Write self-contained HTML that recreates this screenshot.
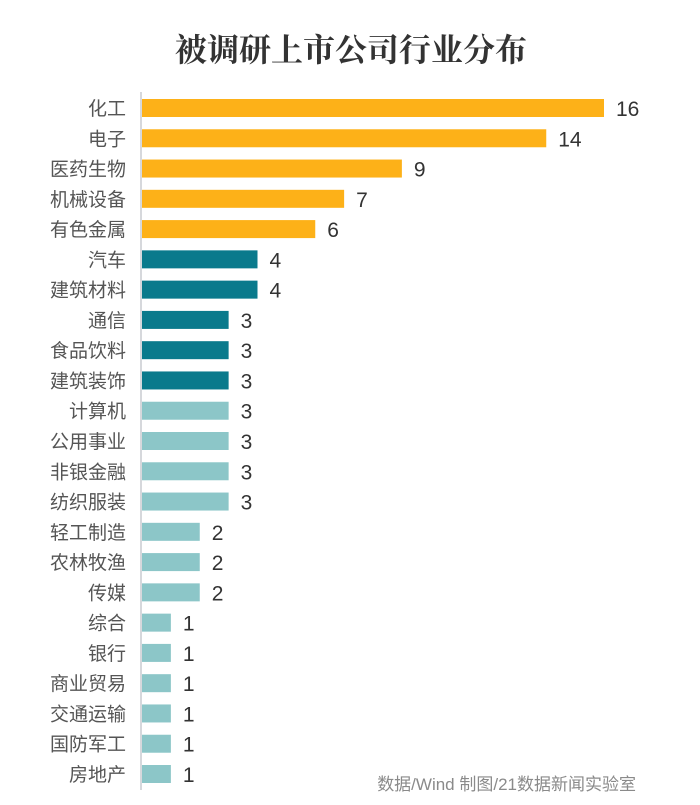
<!DOCTYPE html>
<html><head><meta charset="utf-8"><style>
body{margin:0;background:#fff;}
svg{display:block;font-family:"Liberation Sans","Noto Sans CJK SC",sans-serif;}
</style></head><body>
<svg width="700" height="805" viewBox="0 0 700 805">
<rect width="700" height="805" fill="#fff"/>
<text x="351" y="61" text-anchor="middle" font-size="32" font-weight="bold" fill="#333" font-family="'Noto Serif CJK SC','Noto Sans CJK SC',serif">被调研上市公司行业分布</text>
<line x1="141" y1="92" x2="141" y2="790" stroke="#c8ccd0" stroke-width="1.5"/>
<g id="bars"></g>
<text x="636" y="790" text-anchor="end" font-size="17" fill="#8a8a8a">数据/Wind  制图/21数据新闻实验室</text>
</svg>
<script>
const categories=["化工","电子","医药生物","机械设备","有色金属","汽车","建筑材料","通信","食品饮料","建筑装饰","计算机","公用事业","非银金融","纺织服装","轻工制造","农林牧渔","传媒","综合","银行","商业贸易","交通运输","国防军工","房地产"];
const values=[16,14,9,7,6,4,4,3,3,3,3,3,3,3,2,2,2,1,1,1,1,1,1];
const colorGroup=[0,0,0,0,0,1,1,1,1,1,2,2,2,2,2,2,2,2,2,2,2,2,2];
const colors=["#FDB118","#0A7A8C","#8CC6C8"];
const x0=142, unit=(604-142)/16, y0=108, step=(774-108)/22, bh=18;
const xs=v=>x0+v*unit, ys=i=>y0+i*step;
const g=document.getElementById('bars');
const NS="http://www.w3.org/2000/svg";
categories.forEach((c,i)=>{
  const r=document.createElementNS(NS,'rect');
  
  
  r.setAttribute('x',x0);r.setAttribute('y',ys(i)-bh/2);
  r.setAttribute('width',xs(values[i])-x0);r.setAttribute('height',bh);
  r.setAttribute('fill',colors[colorGroup[i]]);g.appendChild(r);
  const l=document.createElementNS(NS,'text');
  
  
  l.setAttribute('x',126);l.setAttribute('y',ys(i)+7);
  l.setAttribute('text-anchor','end');l.setAttribute('font-size','19');l.setAttribute('fill','#555');
  l.textContent=c;g.appendChild(l);
  const v=document.createElementNS(NS,'text');
  
  
  v.setAttribute('x',xs(values[i])+12);v.setAttribute('y',ys(i)+8);
  v.setAttribute('font-size','21');v.setAttribute('fill','#333');
  v.textContent=values[i];g.appendChild(v);
});
</script>
</body></html>
